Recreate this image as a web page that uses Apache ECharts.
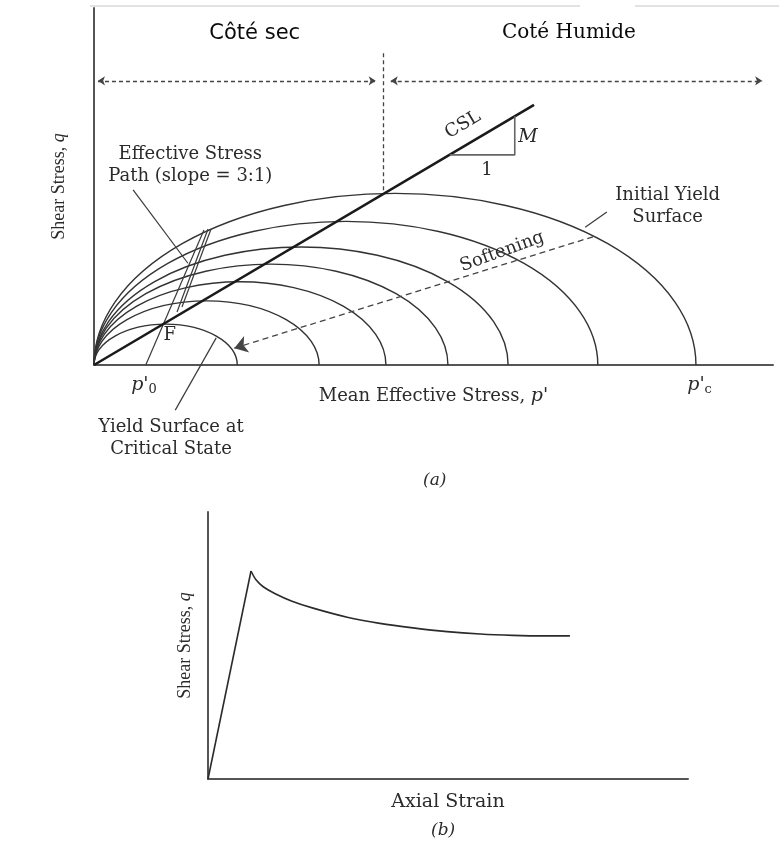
<!DOCTYPE html>
<html><head><meta charset="utf-8">
<script src="https://cdn.jsdelivr.net/npm/echarts@6/dist/echarts.min.js"></script>
<style>html,body{margin:0;padding:0;background:#fff}#c{width:779px;height:847px}</style>
</head><body><div id="c"></div>
<script>
// ---------- (a) Yield surfaces in p'-q space ----------
const yieldSurfacePc = [23.8, 37.4, 48.5, 58.8, 68.8, 83.7, 100];   // p'c of each yield surface
const yieldAspect = 0.57;                                        // q_apex / (p'c/2)
const cslLine = [[0, 0], [73.1, 43.2]];
const slopeTriangle = [[59.1, 34.9], [69.9, 34.9], [69.9, 41.3]];
const stressPathLines = [
  [[8.6, 0], [18.27, 22.43]],
  [[13.79, 8.8], [18.94, 22.59]],
  [[14.62, 9.63], [19.44, 22.59]]
];
const sideArrows = [[[0.66, 47.2], [46.8, 47.2]], [[49.3, 47.2], [111.0, 47.2]]];
const dividerLine = [[48.0, 51.8], [48.0, 28.6]];
const softeningArrow = [[82.9, 21.3], [23.3, 2.8]];
const leaderLines = [
  [[6.5, 29.1], [15.6, 16.9]],     // effective stress path
  [[20.3, 4.5], [13.5, -7.5]],     // yield surface at critical state
  [[81.6, 22.9], [85.2, 25.4]]     // initial yield surface
];
const labelsA = [
  {text: 'Côté sec', at: [26.7, 55.1], kind: 'side'},
  {text: 'Coté Humide', at: [78.9, 55.1], kind: 'sideSerif'},
  {text: 'Effective Stress\nPath (slope = 3:1)', at: [16.0, 33.2], kind: 'note'},
  {text: 'Initial Yield\nSurface', at: [95.3, 26.3], kind: 'note'},
  {text: 'Yield Surface at\nCritical State', at: [12.8, -12.2], kind: 'note'},
  {text: 'Softening', at: [67.8, 18.8], kind: 'note', rotate: 20},
  {text: 'CSL', at: [61.3, 39.9], kind: 'note', rotate: 31},
  {text: '{i|M}', at: [72.1, 37.9], kind: 'rich'},
  {text: '1', at: [65.3, 32.4], kind: 'note'},
  {text: 'F', at: [12.6, 5.0], kind: 'note'},
  {text: "{i|p'}{s|0}", at: [8.3, -3.4], kind: 'rich'},
  {text: "{i|p'}{s|c}", at: [100.6, -3.4], kind: 'rich'}
];

// ---------- (b) Shear stress vs axial strain ----------
const strainRise = [0, 8.96];
const qRise = [0, 77.9];
const strainSoft = [8.96, 10.0, 11.5, 14.0, 17.5, 21.9, 29.0, 35.8, 42.7, 49.8, 56.7, 63.5, 70.0, 75.4];
const qSoft = [77.9, 74.6, 72.0, 69.4, 66.6, 64.0, 60.6, 58.3, 56.6, 55.2, 54.3, 53.8, 53.6, 53.6];

const SERIF = '"DejaVu Serif", serif';
const INK = '#2b2b2b';
const rich = {
  i: {fontFamily: SERIF, fontStyle: 'italic', fontSize: 19, color: INK},
  s: {fontFamily: SERIF, fontSize: 13, color: INK, padding: [9, 0, 0, 0]},
  n: {fontFamily: SERIF, fontSize: 18, color: INK},
  ln: {fontFamily: '"Liberation Serif", serif', fontSize: 18, color: INK},
  li: {fontFamily: '"Liberation Serif", serif', fontStyle: 'italic', fontSize: 18, color: INK}
};
function labelStyle(l) {
  const base = {show: true, position: 'inside', align: 'center', verticalAlign: 'middle',
    formatter: l.text, rotate: l.rotate || 0, color: INK, fontFamily: SERIF, fontSize: 18, lineHeight: 22, rich: rich};
  if (l.kind === 'side') Object.assign(base, {fontFamily: '"DejaVu Sans", sans-serif', fontSize: 21, color: '#0a0a0a'});
  if (l.kind === 'sideSerif') Object.assign(base, {fontSize: 20, color: '#0a0a0a'});
  return base;
}

const chart = echarts.init(document.getElementById('c'), null, {renderer: 'canvas'});
const axisLine = {show: true, lineStyle: {color: '#555', width: 2}};
const hideAll = {axisTick: {show: false}, axisLabel: {show: false}, splitLine: {show: false}};

chart.setOption({
  animation: false,
  backgroundColor: '#fff',
  grid: [
    {left: 94, top: 8, width: 679, height: 357, outerBoundsMode: 'none'},
    {left: 208, top: 512, width: 480, height: 267, outerBoundsMode: 'none'}
  ],
  xAxis: [
    Object.assign({type: 'value', gridIndex: 0, min: 0, max: 112.8, axisLine: axisLine,
      name: "{n|Mean Effective Stress, }{i|p'}", nameLocation: 'middle', nameGap: 22,
      nameTextStyle: {rich: rich}}, hideAll),
    Object.assign({type: 'value', gridIndex: 1, min: 0, max: 100, axisLine: axisLine,
      name: 'Axial Strain', nameLocation: 'middle', nameGap: 14,
      nameTextStyle: {fontFamily: SERIF, fontSize: 19, color: INK}}, hideAll)
  ],
  yAxis: [
    Object.assign({type: 'value', gridIndex: 0, min: 0, max: 59.3, axisLine: axisLine,
      name: '{ln|Shear Stress, }{li|q}', nameLocation: 'middle', nameGap: 26, nameRotate: 90,
      nameTextStyle: {rich: rich}}, hideAll),
    Object.assign({type: 'value', gridIndex: 1, min: 0, max: 100, axisLine: axisLine,
      name: '{ln|Shear Stress, }{li|q}', nameLocation: 'middle', nameGap: 14, nameRotate: 90,
      nameTextStyle: {rich: rich}}, hideAll)
  ],
  series: [
    { // yield surfaces (upper half-ellipses through the origin)
      type: 'custom', xAxisIndex: 0, yAxisIndex: 0, clip: false,
      data: yieldSurfacePc.map(v => [v, 0]),
      encode: {x: 0, y: 1},
      renderItem: function (params, api) {
        const pc = api.value(0);
        const o = api.coord([0, 0]);
        const e = api.coord([pc, 0]);
        const rx = (e[0] - o[0]) / 2;
        const ry = api.size([0, yieldAspect * pc / 2])[1];
        return {type: 'path',
          shape: {pathData: 'M ' + o[0] + ' ' + o[1] + ' A ' + rx + ' ' + ry + ' 0 0 1 ' + e[0] + ' ' + e[1]},
          style: {fill: 'none', stroke: '#333', lineWidth: 1.4}};
      }
    },
    {type: 'line', xAxisIndex: 0, yAxisIndex: 0, data: cslLine, symbol: 'none',
      lineStyle: {color: '#1a1a1a', width: 2.6}},
    {type: 'line', xAxisIndex: 0, yAxisIndex: 0, data: slopeTriangle, symbol: 'none',
      lineStyle: {color: '#666', width: 1.6}},
    {type: 'lines', coordinateSystem: 'cartesian2d', xAxisIndex: 0, yAxisIndex: 0, clip: false,
      data: stressPathLines.map(c => ({coords: c})), lineStyle: {color: '#3a3a3a', width: 1.2, opacity: 1}},
    {type: 'lines', coordinateSystem: 'cartesian2d', xAxisIndex: 0, yAxisIndex: 0, clip: false,
      data: leaderLines.map(c => ({coords: c})), lineStyle: {color: '#3a3a3a', width: 1.2, opacity: 1}},
    {type: 'lines', coordinateSystem: 'cartesian2d', xAxisIndex: 0, yAxisIndex: 0, clip: false,
      symbol: ['arrow', 'arrow'], symbolSize: 7,
      data: sideArrows.map(c => ({coords: c})), lineStyle: {color: '#444', width: 1.3, type: [4, 3], opacity: 1}},
    {type: 'lines', coordinateSystem: 'cartesian2d', xAxisIndex: 0, yAxisIndex: 0, clip: false,
      data: [{coords: dividerLine}], lineStyle: {color: '#444', width: 1.3, type: [4, 3], opacity: 1}},
    {type: 'lines', coordinateSystem: 'cartesian2d', xAxisIndex: 0, yAxisIndex: 0, clip: false,
      symbol: ['none', 'arrow'], symbolSize: 13,
      data: [{coords: softeningArrow}], lineStyle: {color: '#444', width: 1.3, type: [6, 4], opacity: 1}},
    {type: 'scatter', xAxisIndex: 0, yAxisIndex: 0, clip: false, symbolSize: 0, silent: true,
      itemStyle: {opacity: 1},
      data: labelsA.map(l => ({value: l.at, label: labelStyle(l)}))},
    // (b)
    {type: 'line', xAxisIndex: 1, yAxisIndex: 1, symbol: 'none',
      data: strainRise.map((x, i) => [x, qRise[i]]), lineStyle: {color: '#2b2b2b', width: 1.6}},
    {type: 'line', xAxisIndex: 1, yAxisIndex: 1, symbol: 'none', smooth: 0.3,
      data: strainSoft.map((x, i) => [x, qSoft[i]]), lineStyle: {color: '#2b2b2b', width: 1.6}}
  ],
  graphic: [
    {type: 'text', left: 423, top: 472, style: {text: '(a)', font: 'italic 17px "DejaVu Serif"', fill: INK}},
    {type: 'text', left: 431, top: 822, style: {text: '(b)', font: 'italic 17px "DejaVu Serif"', fill: INK}},
    {type: 'line', shape: {x1: 90, y1: 6, x2: 580, y2: 6}, style: {stroke: '#e2e2e2', lineWidth: 2}},
    {type: 'line', shape: {x1: 635, y1: 6, x2: 779, y2: 6}, style: {stroke: '#e2e2e2', lineWidth: 2}}
  ]
});
</script></body></html>
